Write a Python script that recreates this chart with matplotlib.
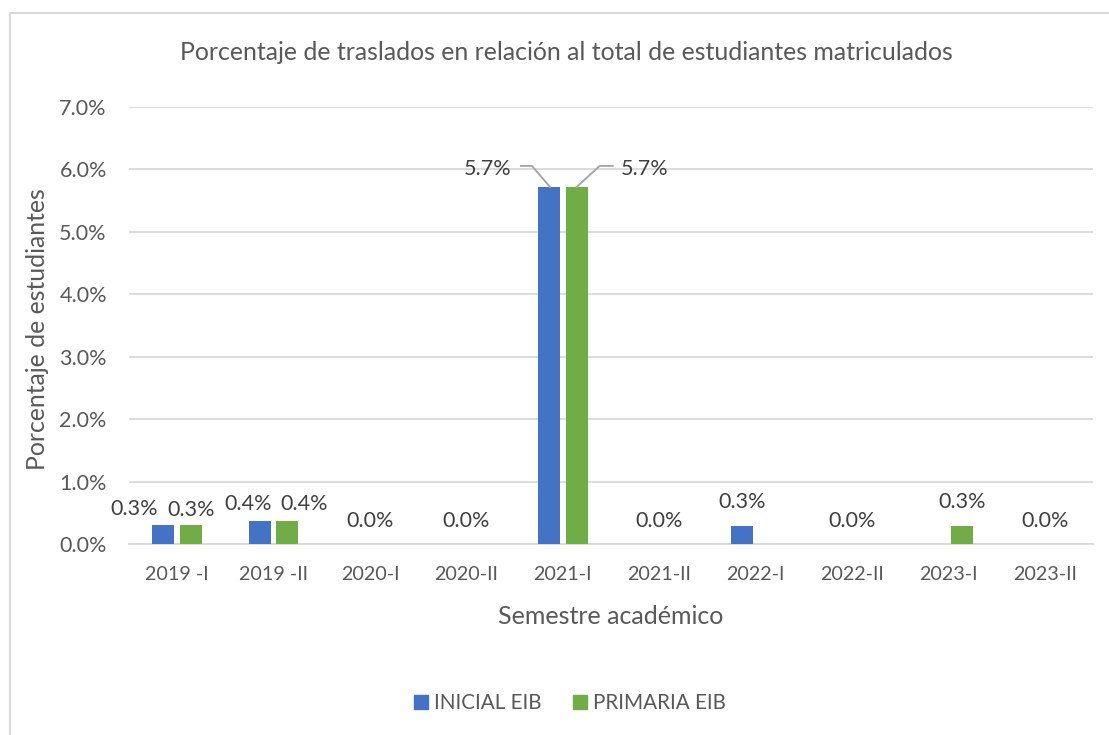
import matplotlib
matplotlib.use("Agg")
import matplotlib.pyplot as plt
from matplotlib.patches import Rectangle, Patch
import numpy as np

categories = ["2019 -I", "2019 -II", "2020-I", "2020-II", "2021-I",
              "2021-II", "2022-I", "2022-II", "2023-I", "2023-II"]
inicial = [0.30, 0.37, 0.0, 0.0, 5.72, 0.0, 0.29, 0.0, 0.0, 0.0]
primaria = [0.30, 0.37, 0.0, 0.0, 5.72, 0.0, 0.0, 0.0, 0.29, 0.0]
series_names = ["INICIAL EIB", "PRIMARIA EIB"]
yticks = [0, 1, 2, 3, 4, 5, 6, 7]
title = "Porcentaje de traslados en relación al total de estudiantes matriculados"
xlabel = "Semestre académico"
ylabel = "Porcentaje de estudiantes"

plt.rcParams['font.family'] = ['Lato', 'DejaVu Sans']
W, H = 1109, 735
fig = plt.figure(figsize=(W / 100, H / 100), dpi=100)
renderer = fig.canvas.get_renderer()


def fit(s, target_px, base=10.0):
    t = fig.text(0, 0, s, fontsize=base)
    w = t.get_window_extent(renderer).width
    t.remove()
    return base * target_px / w


fs_title = fit(title, 777)
fs_xtick = fit("2019 -II", 69)
fs_ytick = fit("7.0%", 47)
fs_xlab = fit(xlabel, 226)
fs_ylab = fit(ylabel, 283)
fs_data = fit("0.3%", 47)
fs_leg = fit("PRIMARIA EIB", 132)

ax = fig.add_axes([129 / W, 1 - 544 / H, (1093 - 129) / W, (544 - 107) / H])

BLUE = "#4472C4"
GREEN = "#70AD47"
TICK = "#595959"
LAB = "#404040"
GRID = "#D9D9D9"

x = np.arange(len(categories))
bw = 0.228
off = 0.144
ax.bar(x - off, inicial, bw, color=BLUE, label=series_names[0], zorder=3)
ax.bar(x + off, primaria, bw, color=GREEN, label=series_names[1], zorder=3)

ax.set_xlim(-0.5, len(categories) - 0.5)
ax.set_ylim(0, 7)
ax.set_yticks(yticks)
ax.set_yticklabels([f"{v:.1f}%" for v in yticks])
ax.set_xticks(x)
ax.set_xticklabels(categories)
ax.grid(axis='y', color=GRID, linewidth=1.3, zorder=0)
for s in ["top", "right", "left"]:
    ax.spines[s].set_visible(False)
ax.spines["bottom"].set_color(GRID)
ax.spines["bottom"].set_linewidth(1.3)
ax.tick_params(axis='both', length=0, colors=TICK)
ax.tick_params(axis='x', labelsize=fs_xtick, pad=16)
ax.tick_params(axis='y', labelsize=fs_ytick, pad=16)

ax.set_xlabel(xlabel, fontsize=fs_xlab, color=TICK, va='center')
ax.xaxis.set_label_coords(0.5, (544 - 617) / 437)
ax.set_ylabel(ylabel, fontsize=fs_ylab, color=TICK, va='center')
ax.yaxis.set_label_coords((37 - 129) / 964, (544 - 329) / 437)
fig.text(566 / W, 1 - 52 / H, title, ha='center', va='center', fontsize=fs_title, color=TICK)

# data labels
lab_kw = dict(fontsize=fs_data, color=LAB, ha='center', va='baseline', textcoords='offset pixels')
crowded = {0: ((-29, 10), (0, 9)), 1: ((-12, 11), (17, 11))}
t = ax.transData
inv = t.inverted()
for i in range(len(categories)):
    a, b = inicial[i], primaria[i]
    if a == 0 and b == 0:
        ax.annotate(f"{0:.1f}%", (x[i], 0), xytext=(0, 17), **lab_kw)
        continue
    if i == 4:
        ax.annotate(f"{a:.1f}%", (x[i] - off, a), xytext=(-61, 18), fontsize=fs_data, color=LAB,
                    ha='center', va='center', textcoords='offset pixels')
        ax.annotate(f"{b:.1f}%", (x[i] + off, b), xytext=(68, 18), fontsize=fs_data, color=LAB,
                    ha='center', va='center', textcoords='offset pixels')
        pa = t.transform((x[i] - off, a))
        pb = t.transform((x[i] + off, b))
        la = [(pa[0] - 28, pa[1] + 21), (pa[0] - 17, pa[1] + 21), (pa[0] + 1, pa[1])]
        lb = [(pb[0] + 36, pb[1] + 21), (pb[0] + 23, pb[1] + 21), (pb[0], pb[1])]
        for pts in (la, lb):
            d = inv.transform(pts)
            ax.plot(d[:, 0], d[:, 1], color="#A6A6A6", linewidth=1.4, zorder=4, clip_on=False)
        continue
    (sa, ya), (sb, yb) = crowded.get(i, ((0, 18), (0, 18)))
    if a > 0:
        ax.annotate(f"{a:.1f}%", (x[i] - off, a), xytext=(sa, ya), **lab_kw)
    if b > 0:
        ax.annotate(f"{b:.1f}%", (x[i] + off, b), xytext=(sb, yb), **lab_kw)

handles = [Patch(color=BLUE, label=series_names[0]), Patch(color=GREEN, label=series_names[1])]
fig.legend(handles=handles, loc='center', bbox_to_anchor=(570 / W, 1 - 703 / H), ncol=2,
           frameon=False, fontsize=fs_leg, labelcolor=TICK, handlelength=0.7, handleheight=0.7,
           handletextpad=0.3, columnspacing=1.5)

fig.patches.append(Rectangle((10 / W, -0.1), 1.2, 1 - 12.5 / H + 0.1, transform=fig.transFigure,
                             fill=False, edgecolor="#D9D9D9", linewidth=1.5))

fig.savefig("out.png", dpi=100, facecolor="white")
